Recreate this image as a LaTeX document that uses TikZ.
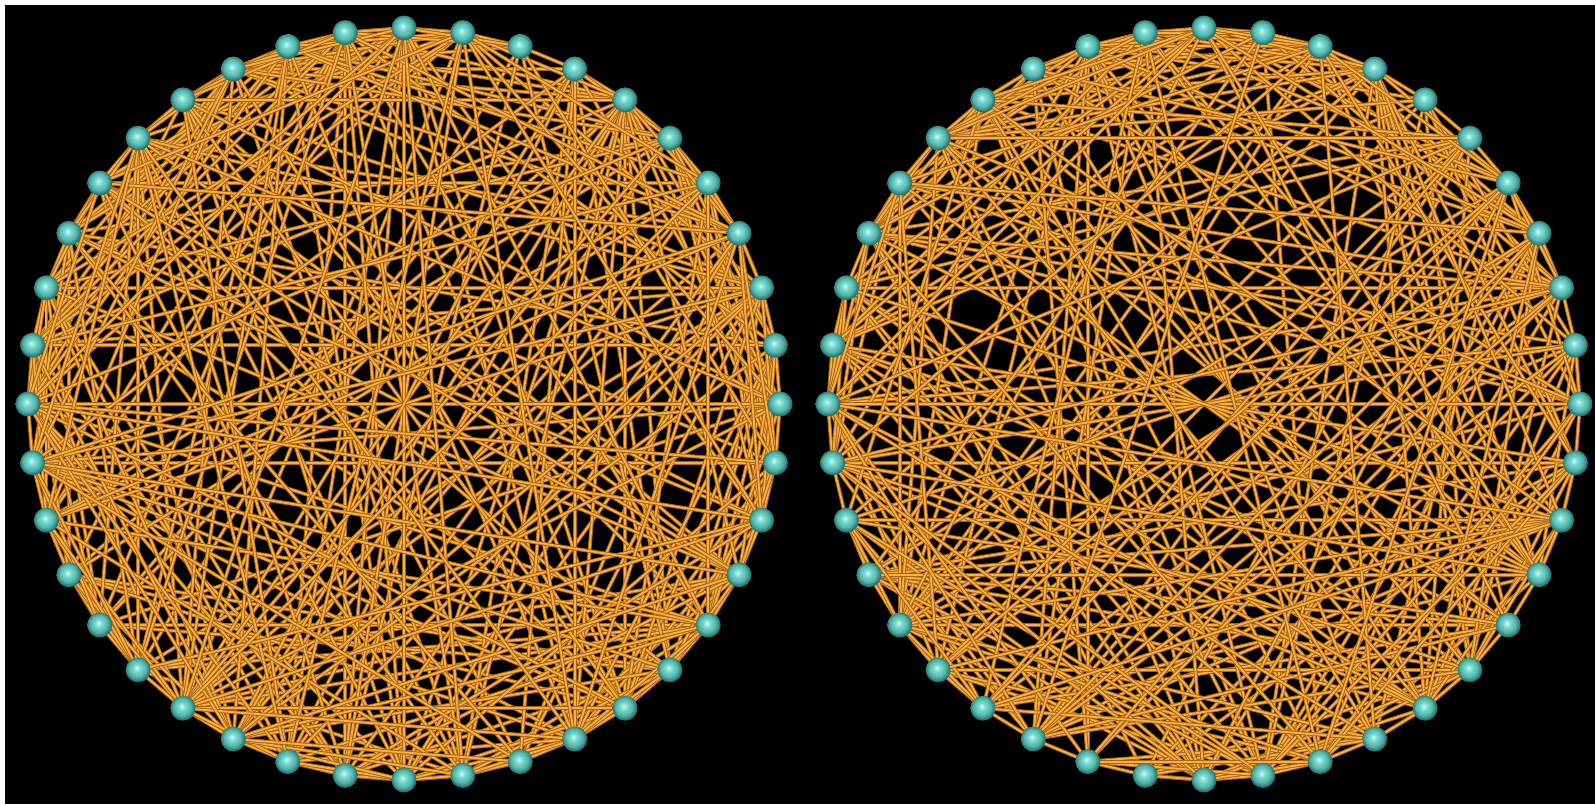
\documentclass[tikz,border=0pt]{standalone}
\pgfdeclarelayer{bglayer}
\pgfdeclarelayer{edgelayer}
\pgfsetlayers{bglayer,edgelayer,main}
\definecolor{ballhi}{RGB}{205,255,248}
\definecolor{ballmid}{RGB}{125,218,208}
\definecolor{ballmain}{RGB}{82,182,172}
\definecolor{balldark}{RGB}{38,112,106}
\definecolor{edgedark}{RGB}{168,100,24}
\definecolor{edgeorange}{RGB}{250,176,64}
\pgfdeclareradialshading{tealball}{\pgfpoint{-3bp}{4bp}}{color(0bp)=(ballhi); color(7bp)=(ballmid); color(17bp)=(ballmain); color(25bp)=(balldark); color(50bp)=(balldark)}
\newcount\lcgx \newcount\lcgq \newcount\lcgt
\global\lcgx=20240601
% global Park-Miller step; result 0..999 in \lcgt
\def\lcgnext{%
  \lcgq=\lcgx \divide\lcgq by 127773
  \lcgt=\lcgq \multiply\lcgt by 127773
  \lcgt=\numexpr\lcgx-\lcgt\relax
  \global\lcgx=\numexpr 16807*\lcgt - 2836*\lcgq\relax
  \ifnum\lcgx<0 \global\advance\lcgx by 2147483647 \fi
  \lcgt=\lcgx \divide\lcgt by 2147484 }
\begin{document}
\begin{tikzpicture}[x=1pt,y=1pt,
  edge/.style={draw=edgedark, double=edgeorange, double distance=1.9pt, line width=0.95pt},
  ballnode/.style={circle, minimum size=25pt, inner sep=0pt, shading=tealball}]
\useasboundingbox (0,0) rectangle (1595,804);
\begin{pgfonlayer}{bglayer}
\fill[white] (0,0) rectangle (1595,804);
\fill[black] (5,0) rectangle (1595,799);
\end{pgfonlayer}
\foreach \k in {0,...,39}{
  \node[ballnode] (L\k) at ({404+376*cos(90+9*\k)},{400+376*sin(90+9*\k)}) {};
  \node[ballnode] (R\k) at ({1204+376*cos(90+9*\k)},{400+376*sin(90+9*\k)}) {};
}
\begin{pgfonlayer}{edgelayer}
% outer ring
\foreach \i in {0,...,39}{
  \pgfmathtruncatemacro\s{mod(\i+1,40)}
  \draw[edge] (L\i.center) -- (L\s.center);
  \draw[edge] (R\i.center) -- (R\s.center);
}
% random chords, drawn in a scrambled order
\foreach \d in {1,...,39}{
  \pgfmathtruncatemacro\pmax{39-\d}
  \foreach \p in {0,...,\pmax}{
    \pgfmathtruncatemacro\a{mod(17*\p+5,40)}
    \pgfmathtruncatemacro\b{mod(17*(\p+\d)+5,40)}
    \lcgnext
    \ifnum\lcgt<400 \draw[edge] (L\a.center) -- (L\b.center);\fi
    \lcgnext
    \ifnum\lcgt<380 \draw[edge] (R\a.center) -- (R\b.center);\fi
  }
}
\end{pgfonlayer}
\end{tikzpicture}
\end{document}
